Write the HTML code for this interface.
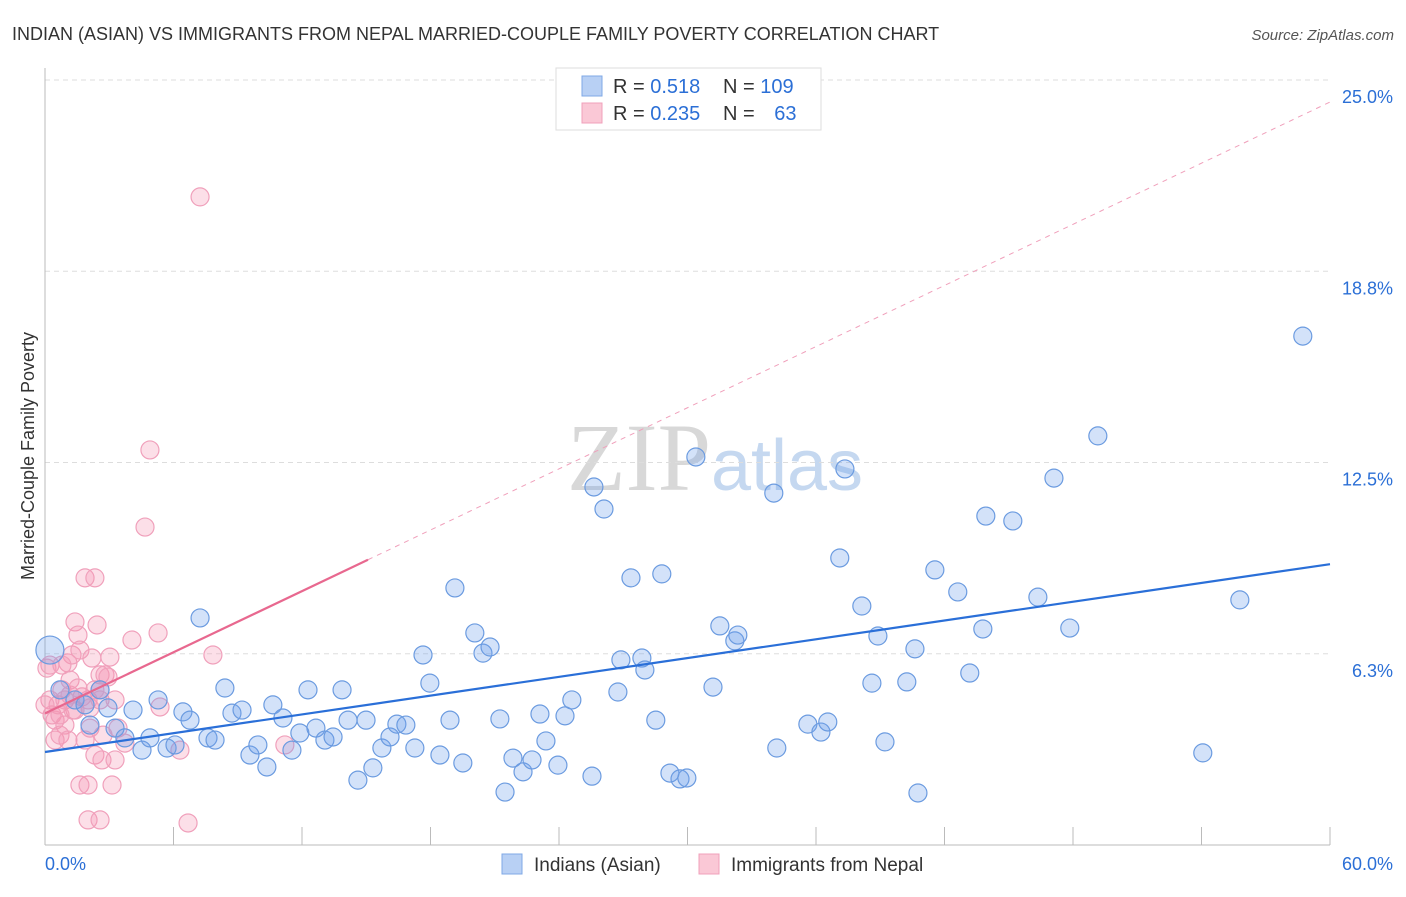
<!DOCTYPE html>
<html><head><meta charset="utf-8"><style>
body{margin:0;background:#fff;font-family:"Liberation Sans",sans-serif;}
svg text{font-family:"Liberation Sans",sans-serif;}
</style></head><body>
<svg id="chart" width="1406" height="892" xmlns="http://www.w3.org/2000/svg">
<text x="12" y="40" font-size="18" fill="#333">INDIAN (ASIAN) VS IMMIGRANTS FROM NEPAL MARRIED-COUPLE FAMILY POVERTY CORRELATION CHART</text>
<text x="1394" y="40" font-size="15" fill="#555" text-anchor="end" font-style="italic">Source: ZipAtlas.com</text>
<text x="715" y="490" font-size="96" text-anchor="middle" fill="#ddd" font-family="Liberation Serif,serif"><tspan fill="#d8d8d8" font-family="Liberation Serif,serif">ZIP</tspan><tspan fill="#c5d8f0" font-family="Liberation Sans,sans-serif" font-size="72">atlas</tspan></text>
<g id="grid"></g><g id="axes"></g><g id="marks"></g>
<text transform="translate(34,456) rotate(-90)" font-size="18" fill="#333" text-anchor="middle">Married-Couple Family Poverty</text>
<g>
<rect x="556" y="68" width="265" height="62" fill="#fff" stroke="#ddd"/>
<rect x="582" y="76" width="20" height="20" fill="#b8d0f4" stroke="#7fa8e6"/>
<rect x="582" y="103" width="20" height="20" fill="#fac8d6" stroke="#f0a0bb"/>
<text x="613" y="93" font-size="20" fill="#333">R = <tspan fill="#2b6fd6">0.518</tspan></text>
<text x="723" y="93" font-size="20" fill="#333">N = <tspan fill="#2b6fd6">109</tspan></text>
<text x="613" y="120" font-size="20" fill="#333">R = <tspan fill="#2b6fd6">0.235</tspan></text>
<text x="723" y="120" font-size="20" fill="#333">N = <tspan fill="#2b6fd6" dx="14">63</tspan></text>
</g>
<g>
<rect x="502" y="854" width="20" height="20" fill="#b8d0f4" stroke="#7fa8e6"/>
<text x="534" y="871" font-size="19" fill="#333">Indians (Asian)</text>
<rect x="699" y="854" width="20" height="20" fill="#fac8d6" stroke="#f0a0bb"/>
<text x="731" y="871" font-size="19" fill="#333">Immigrants from Nepal</text>
</g>
</svg>
<script>
const yTicks=[6.3,12.5,18.8,25.0];
const yTickVals=[6.25,12.5,18.75,25];
const xTickLabels=["0.0%","60.0%"];
const blueX=[.23,.70,1.40,1.87,2.57,2.94,2.10,3.27,3.73,4.11,4.53,4.90,5.28,5.70,6.07,6.44,6.77,7.24,7.61,7.94,8.40,8.73,9.20,9.57,9.94,10.36,10.64,11.11,11.53,11.90,12.28,12.65,13.07,13.45,13.87,14.15,14.61,14.99,15.31,15.73,16.11,16.43,16.85,17.27,17.65,17.97,18.44,18.91,19.14,19.51,20.07,20.45,20.78,21.24,21.48,21.85,22.32,22.74,23.11,23.39,23.95,24.28,24.60,25.54,25.63,26.10,26.75,26.89,27.36,27.87,28.01,28.52,28.80,29.18,29.65,29.97,30.39,31.19,31.51,32.21,32.35,34.03,34.17,35.62,36.23,36.55,37.11,37.35,38.14,38.61,38.89,39.22,40.24,40.62,40.76,41.55,42.62,43.18,43.79,43.93,45.19,46.36,47.11,47.85,49.16,54.06,55.79,58.73];
const blueY=[6.37,5.07,4.74,4.58,5.07,4.48,3.92,3.82,3.50,4.41,3.10,3.50,4.74,3.17,3.27,4.35,4.08,7.42,3.50,3.43,5.13,4.31,4.41,2.94,3.27,2.55,4.58,4.15,3.10,3.66,5.07,3.82,3.43,3.53,5.07,4.08,2.12,4.08,2.52,3.17,3.53,3.95,3.92,3.17,6.21,5.29,2.94,4.08,8.40,2.68,6.93,6.27,6.47,4.12,1.73,2.84,2.39,2.78,4.28,3.40,2.61,4.22,4.74,2.25,11.70,10.98,5.00,6.05,8.73,6.11,5.72,4.08,8.86,2.35,2.16,2.19,12.68,5.16,7.16,6.67,6.86,11.50,3.17,3.95,3.69,4.02,9.38,12.29,7.81,5.29,6.83,3.37,5.33,6.41,1.70,8.99,8.27,5.62,7.06,10.75,10.59,8.10,11.99,7.09,13.37,3.01,8.01,16.63];
const pinkX=[.09,.23,.33,.47,.61,.79,.93,1.07,1.17,1.26,1.40,1.40,1.54,1.63,1.73,1.87,1.87,2.01,2.10,2.19,2.33,2.33,2.43,2.57,2.57,2.66,2.80,2.94,3.03,3.27,3.41,3.73,4.06,4.67,4.90,5.28,5.37,6.30,7.24,7.84,11.20,1.63,2.01,2.01,2.57,3.13,6.68,.93,.47,.70,1.17,1.31,0,.23,.79,2.10,2.71,2.57,3.27,.70,1.07,1.54,2.33];
const pinkY=[5.78,4.74,4.25,4.08,4.58,5.07,4.74,5.95,5.39,6.21,7.29,4.41,6.86,6.37,4.84,8.73,3.43,4.74,3.82,6.11,8.73,2.94,7.19,5.56,5.07,2.78,5.56,5.49,6.14,2.78,3.82,3.33,6.70,10.39,12.91,6.93,4.51,3.10,21.18,6.21,3.27,1.96,1.96,.82,.82,1.96,.72,3.92,3.43,4.25,4.90,4.41,4.58,5.88,5.88,4.48,3.59,4.74,4.74,3.59,3.43,5.13,5.07];
const blueTrend=[3.04,0.1023];
const pinkTrend=[4.3,0.333];
const X0=45,X1=1330,Y0=845,Y1=80;
const sx=v=>X0+(v/60)*(X1-X0);
const sy=v=>Y0-(v/25)*(Y0-Y1);
const NS="http://www.w3.org/2000/svg";
function mk(t,a,p){const e=document.createElementNS(NS,t);for(const k in a)e.setAttribute(k,a[k]);p.appendChild(e);return e;}
const grid=document.getElementById('grid'),axes=document.getElementById('axes'),marks=document.getElementById('marks');
yTickVals.forEach((v,i)=>{
 const l=mk('line',{x1:X0,x2:X1,y1:sy(v),y2:sy(v),stroke:'#ddd','stroke-dasharray':'5,4'},grid);
 
 
 const t=mk('text',{x:1393,y:sy(v)+23,'font-size':18,fill:'#2b6fd6','text-anchor':'end'},axes);
 t.textContent=yTicks[i].toFixed(1)+'%';
 
 
});
const ax=mk('line',{x1:X0,x2:X1,y1:Y0,y2:Y0,stroke:'#bbb'},axes);


const ay=mk('line',{x1:X0,x2:X0,y1:68,y2:Y0,stroke:'#bbb'},axes);


for(let i=1;i<=10;i++){const x=X0+i*(X1-X0)/10;const tk=mk('line',{x1:x,x2:x,y1:Y0,y2:Y0-18,stroke:'#bbb'},axes);
 
 }
[[X0,'start',0],[1393,'end',1]].forEach(([x,a,i])=>{const t=mk('text',{x:x,y:870,'font-size':18,fill:'#2b6fd6','text-anchor':a},axes);t.textContent=xTickLabels[i];
 
 });
pinkX.forEach((v,i)=>{const c=mk('circle',{cx:sx(v),cy:sy(pinkY[i]),r:9,fill:'rgba(245,150,180,0.3)',stroke:'#f0a0bb','stroke-width':1.2},marks);
 
 });
blueX.forEach((v,i)=>{const c=mk('circle',{cx:sx(v),cy:sy(blueY[i]),r:i===0?14:9,fill:'rgba(110,160,235,0.3)',stroke:'#6b9be0','stroke-width':1.2},marks);
 
 });
const bt=mk('line',{x1:sx(0),y1:sy(blueTrend[0]),x2:sx(60),y2:sy(blueTrend[0]+60*blueTrend[1]),stroke:'#2a6fd8','stroke-width':2.2},marks);


const pd=mk('line',{x1:sx(15.08),y1:sy(pinkTrend[0]+15.08*pinkTrend[1]),x2:sx(60),y2:sy(pinkTrend[0]+60*pinkTrend[1]),stroke:'#f0a0bb','stroke-width':1,'stroke-dasharray':'5,5'},marks);


const pt=mk('line',{x1:sx(0),y1:sy(pinkTrend[0]),x2:sx(15.08),y2:sy(pinkTrend[0]+15.08*pinkTrend[1]),stroke:'#e8688f','stroke-width':2.2},marks);


</script>
</body></html>
